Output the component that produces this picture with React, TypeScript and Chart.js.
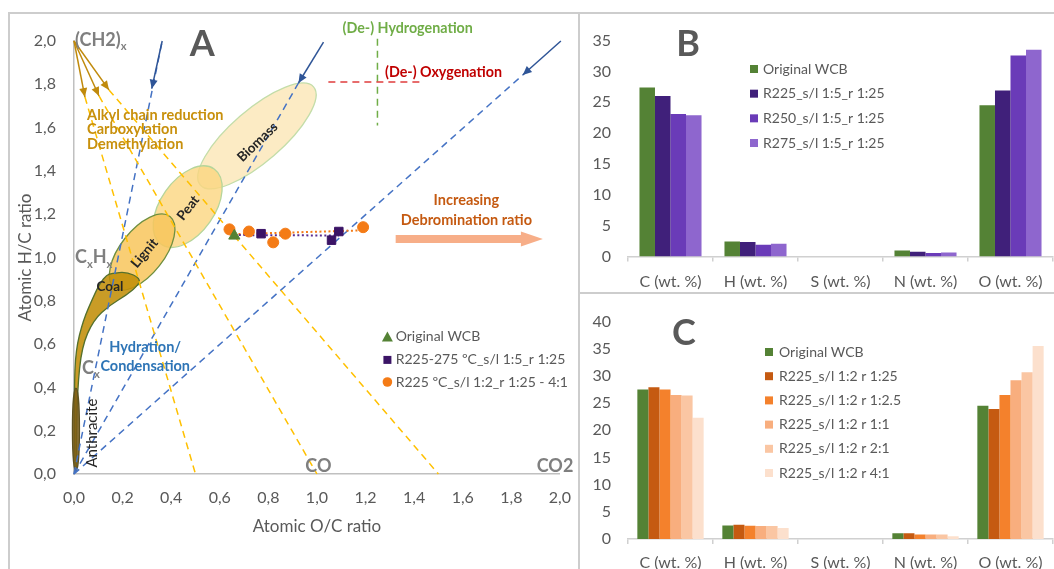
import React, { useEffect, useRef } from 'react';
import { Chart, registerables } from 'chart.js';

Chart.register(...registerables);

const FONT = 'Lato, "Open Sans", "DejaVu Sans", sans-serif';
const GRAY = '#595959';

// ---------- Panel A: Van Krevelen diagram data ----------
const vkTickLabels = ['0,0', '0,2', '0,4', '0,6', '0,8', '1,0', '1,2', '1,4', '1,6', '1,8', '2,0'];
const wcbOC = [0.66];
const wcbHC = [1.1];
const tempOC = [0.77, 1.06, 1.09];
const tempHC = [1.11, 1.08, 1.12];
const ratioOC = [0.64, 0.72, 0.82, 0.87, 1.19];
const ratioHC = [1.13, 1.12, 1.07, 1.11, 1.14];
const seriesALabels = ['Original WCB', 'R225-275 ºC_s/l 1:5_r 1:25', 'R225 ºC_s/l 1:2_r 1:25 - 4:1'];

// ---------- Panel B ----------
const elementLabels = ['C (wt. %)', 'H (wt. %)', 'S (wt. %)', 'N (wt. %)', 'O (wt. %)'];
const bLabels = ['Original WCB', 'R225_s/l 1:5_r 1:25', 'R250_s/l 1:5_r 1:25', 'R275_s/l 1:5_r 1:25'];
const bOriginal = [27.4, 2.45, 0, 0.97, 24.5];
const bR225 = [26.0, 2.35, 0, 0.77, 26.9];
const bR250 = [23.1, 1.9, 0, 0.56, 32.6];
const bR275 = [22.9, 2.05, 0, 0.66, 33.5];

// ---------- Panel C ----------
const cLabels = ['Original WCB', 'R225_s/l 1:2 r 1:25', 'R225_s/l 1:2 r 1:2.5', 'R225_s/l 1:2 r 1:1', 'R225_s/l 1:2 r 2:1', 'R225_s/l 1:2 r 4:1'];
const cOriginal = [27.5, 2.5, 0, 1.04, 24.5];
const cR1_25 = [27.9, 2.6, 0, 1.04, 23.9];
const cR1_2_5 = [27.5, 2.43, 0, 0.81, 26.5];
const cR1_1 = [26.5, 2.38, 0, 0.81, 29.2];
const cR2_1 = [26.4, 2.38, 0, 0.81, 30.7];
const cR4_1 = [22.3, 2.03, 0, 0.52, 35.5];

// ---------- styles ----------
const GREEN = '#548235';
const PURPLE_PT = '#3B1466';
const ORANGE_PT = '#F47B16';
const bColors = [GREEN, '#40207A', '#6A3BB8', '#8E66CE'];
const cColors = [GREEN, '#C55A11', '#F4812C', '#F8AE7E', '#FAC6A3', '#FCE0CD'];

// Annotations of panel A (in O/C, H/C coordinates)
const ellipses = [
  { p1: [0.52, 1.335], p2: [0.986, 1.788], minor: 26, fill: 'rgba(252,232,186,0.85)', stroke: '#C3DDA9' },
  { p1: [0.359, 1.061], p2: [0.577, 1.409], minor: 27, fill: 'rgba(251,214,128,0.8)', stroke: '#B5D59A' },
  { p1: [0.166, 0.861], p2: [0.395, 1.189], minor: 22, fill: 'rgba(248,198,92,0.85)', stroke: '#6F8F3F' },
];
const coalOutline = [
  [0.155, 0.927], [0.217, 0.934], [0.272, 0.904], [0.265, 0.873], [0.217, 0.827], [0.148, 0.781],
  [0.08, 0.711], [0.032, 0.588], [0.014, 0.388], [0.011, 0.157], [0.011, 0.018], [0.003, 0.018],
  [0.001, 0.388], [0.007, 0.573], [0.038, 0.711], [0.08, 0.819], [0.107, 0.882], [0.135, 0.919],
];
const anthraciteShape = { p1: [0.008, 0.014], p2: [0.008, 0.397], minor: 3.5, fill: 'rgba(122,92,22,0.85)', stroke: '#5E5220' };
const blueDashed = [
  [[0, 0], [0.363, 2.0]],
  [[0, 0], [0.924, 1.806]],
  [[0, 0], [1.847, 1.843]],
];
const blueArrows = [
  [[0.363, 2.0], [0.32, 1.78]],
  [[1.027, 1.995], [0.924, 1.806]],
  [[2.004, 2.0], [1.847, 1.843]],
];
const ch2Tips = [[0.045, 1.741], [0.103, 1.746], [0.144, 1.774]];
const ch2Ends = [[0.5, 0], [1.0, 0], [1.5, 0]];
const shapeLabels = [
  { t: 'Biomass', at: [0.755, 1.533], rot: -44 },
  { t: 'Peat', at: [0.47, 1.229], rot: -52 },
  { t: 'Lignit', at: [0.29, 1.02], rot: -50 },
  { t: 'Coal', at: [0.148, 0.864], rot: 0 },
];

function trend(xs: number[], ys: number[]) {
  const n = xs.length;
  const mx = xs.reduce((a, b) => a + b, 0) / n;
  const my = ys.reduce((a, b) => a + b, 0) / n;
  let sxy = 0, sxx = 0;
  for (let i = 0; i < n; i++) { sxy += (xs[i] - mx) * (ys[i] - my); sxx += (xs[i] - mx) ** 2; }
  const m = sxx ? sxy / sxx : 0;
  const b = my - m * mx;
  const lo = Math.min(...xs), hi = Math.max(...xs);
  return [{ x: lo, y: m * lo + b }, { x: hi, y: m * hi + b }];
}
const zip = (a: number[], b: number[]) => a.map((v, i) => ({ x: v, y: b[i] }));

function arrowHead(ctx: any, x1: number, y1: number, x2: number, y2: number, len: number, hw: number, color: string) {
  const a = Math.atan2(y2 - y1, x2 - x1);
  const bx = x2 - len * Math.cos(a), by = y2 - len * Math.sin(a);
  ctx.fillStyle = color;
  ctx.beginPath();
  ctx.moveTo(x2, y2);
  ctx.lineTo(bx + hw * Math.sin(a), by - hw * Math.cos(a));
  ctx.lineTo(bx - hw * Math.sin(a), by + hw * Math.cos(a));
  ctx.closePath();
  ctx.fill();
}

function line(ctx: any, x1: number, y1: number, x2: number, y2: number, color: string, w: number, dash: number[]) {
  ctx.save();
  ctx.strokeStyle = color; ctx.lineWidth = w; ctx.setLineDash(dash);
  ctx.beginPath(); ctx.moveTo(x1, y1); ctx.lineTo(x2, y2); ctx.stroke();
  ctx.restore();
}

function txt(ctx: any, s: string, x: number, y: number, font: string, color: string, align = 'left', rot = 0) {
  ctx.save();
  ctx.translate(x, y);
  ctx.rotate((rot * Math.PI) / 180);
  ctx.font = font; ctx.fillStyle = color; ctx.textAlign = align; ctx.textBaseline = 'middle';
  ctx.fillText(s, 0, 0);
  ctx.restore();
}

function rich(ctx: any, parts: [string, boolean][], x: number, y: number, size: number, color: string) {
  let cx = x;
  ctx.save();
  ctx.fillStyle = color; ctx.textAlign = 'left'; ctx.textBaseline = 'middle';
  for (const [t, sub] of parts) {
    const s = sub ? size * 0.62 : size;
    ctx.font = `bold ${s}px ${FONT}`;
    ctx.fillText(t, cx, sub ? y + size * 0.38 : y);
    cx += ctx.measureText(t).width;
  }
  ctx.restore();
}

const vkPlugin = {
  id: 'vkAnnotations',
  beforeDatasetsDraw(chart: any) {
    const { ctx } = chart;
    const X = (v: number) => chart.scales.x.getPixelForValue(v);
    const Y = (v: number) => chart.scales.y.getPixelForValue(v);
    ctx.save();
    const drawEllipse = (e: any) => {
      const x1 = X(e.p1[0]), y1 = Y(e.p1[1]), x2 = X(e.p2[0]), y2 = Y(e.p2[1]);
      ctx.beginPath();
      ctx.ellipse((x1 + x2) / 2, (y1 + y2) / 2, Math.hypot(x2 - x1, y2 - y1) / 2, e.minor, Math.atan2(y2 - y1, x2 - x1), 0, Math.PI * 2);
      ctx.fillStyle = e.fill; ctx.fill();
      ctx.lineWidth = 1.3; ctx.strokeStyle = e.stroke; ctx.stroke();
    };
    ellipses.forEach(drawEllipse);
    const pts = coalOutline.map(p => [X(p[0]), Y(p[1])]);
    ctx.beginPath();
    const n = pts.length;
    const mid = (i: number) => [(pts[i % n][0] + pts[(i + 1) % n][0]) / 2, (pts[i % n][1] + pts[(i + 1) % n][1]) / 2];
    const m0 = mid(0);
    ctx.moveTo(m0[0], m0[1]);
    for (let i = 1; i <= n; i++) {
      const m = mid(i);
      ctx.quadraticCurveTo(pts[i % n][0], pts[i % n][1], m[0], m[1]);
    }
    ctx.closePath();
    ctx.fillStyle = 'rgba(194,142,8,0.88)'; ctx.fill();
    ctx.lineWidth = 1.3; ctx.strokeStyle = '#54702C'; ctx.stroke();
    drawEllipse(anthraciteShape);

    blueDashed.forEach(([a, b]) => line(ctx, X(a[0]), Y(a[1]), X(b[0]), Y(b[1]), '#4472C4', 1.5, [7, 5]));
    ch2Tips.forEach((t, i) => line(ctx, X(t[0]), Y(t[1]), X(ch2Ends[i][0]), Y(ch2Ends[i][1]), '#FFC000', 1.5, [7, 5]));
    ch2Tips.forEach(t => {
      line(ctx, X(0), Y(2), X(t[0]), Y(t[1]), '#C08A0C', 1.5, []);
      arrowHead(ctx, X(0), Y(2), X(t[0]), Y(t[1]), 9, 4, '#C08A0C');
    });
    blueArrows.forEach(([a, b]) => {
      line(ctx, X(a[0]), Y(a[1]), X(b[0]), Y(b[1]), '#2F5597', 1.5, []);
      arrowHead(ctx, X(a[0]), Y(a[1]), X(b[0]), Y(b[1]), 9, 4, '#2F5597');
    });
    line(ctx, X(1.249), Y(2.01), X(1.249), Y(1.61), '#70AD47', 1.5, [7, 5]);
    line(ctx, X(1.047), Y(1.811), X(1.427), Y(1.811), '#E03C3C', 1.5, [7, 5]);

    const ax1 = X(1.324), ax2 = X(1.93), ay = Y(1.085);
    ctx.fillStyle = '#F7AE88';
    ctx.beginPath();
    ctx.moveTo(ax1, ay - 4); ctx.lineTo(ax2 - 22, ay - 4); ctx.lineTo(ax2 - 22, ay - 7.5);
    ctx.lineTo(ax2, ay); ctx.lineTo(ax2 - 22, ay + 7.5); ctx.lineTo(ax2 - 22, ay + 4); ctx.lineTo(ax1, ay + 4);
    ctx.closePath(); ctx.fill();

    const B = (s: number) => `bold ${s}px ${FONT}`;
    shapeLabels.forEach(l => txt(ctx, l.t, X(l.at[0]), Y(l.at[1]), B(13.5), '#262626', 'center', l.rot));
    txt(ctx, 'Anthracite', X(0.074), Y(0.189), `${15}px ${FONT}`, '#262626', 'center', -90);
    txt(ctx, 'A', X(0.528), Y(1.985), B(36), GRAY, 'center');
    rich(ctx, [['(CH2)', false], ['x', true]], X(0) + 1, Y(2.005), 18, '#7F7F7F');
    rich(ctx, [['C', false], ['x', true], ['H', false], ['x', true]], X(0) + 1, Y(1.0), 18, '#7F7F7F');
    rich(ctx, [['C', false], ['x', true]], X(0.033), Y(0.49), 18, '#7F7F7F');
    txt(ctx, 'CO', X(1.006), Y(0.035), B(18), '#7F7F7F', 'center');
    txt(ctx, 'CO2', X(1.98), Y(0.035), B(18), '#7F7F7F', 'center');
    txt(ctx, '(De-) Hydrogenation', X(1.105), Y(2.06), B(14.3), '#70AD47', 'left');
    txt(ctx, '(De-) Oxygenation', X(1.28), Y(1.857), B(14.3), '#C00000', 'left');
    txt(ctx, 'Increasing', X(1.615), Y(1.266), B(14.5), '#C55A11', 'center');
    txt(ctx, 'Debromination ratio', X(1.615), Y(1.173), B(14.5), '#C55A11', 'center');
    ['Alkyl chain reduction', 'Carboxylation', 'Demethylation'].forEach((s, i) =>
      txt(ctx, s, X(0.054), Y([1.658, 1.594, 1.524][i]), B(14.5), '#C8900C', 'left'));
    txt(ctx, 'Hydration/', X(0.293), Y(0.587), B(14.5), '#2E75B6', 'center');
    txt(ctx, 'Condensation', X(0.293), Y(0.499), B(14.5), '#2E75B6', 'center');
    ctx.restore();
  },
  afterDatasetsDraw(chart: any) {
    const { ctx } = chart;
    const X = (v: number) => chart.scales.x.getPixelForValue(v);
    const Y = (v: number) => chart.scales.y.getPixelForValue(v);
    const mx = X(1.29), tx = X(1.324);
    const rows = [0.633, 0.527, 0.425];
    ctx.save();
    chart.data.datasets.slice(0, 3).forEach((ds: any, i: number) => {
      const y = Y(rows[i]);
      ctx.fillStyle = ds.backgroundColor;
      ctx.beginPath();
      if (i === 0) { ctx.moveTo(mx, y - 5.5); ctx.lineTo(mx + 5.5, y + 4.5); ctx.lineTo(mx - 5.5, y + 4.5); ctx.closePath(); }
      else if (i === 1) { ctx.rect(mx - 4, y - 4, 8, 8); }
      else { ctx.arc(mx, y, 4.8, 0, Math.PI * 2); }
      ctx.fill();
      txt(ctx, ds.label, tx, y, `14px ${FONT}`, GRAY, 'left');
    });
    ctx.restore();
  },
};

function makeA() {
  return {
    type: 'scatter',
    data: {
      datasets: [
        { label: seriesALabels[0], data: zip(wcbOC, wcbHC), pointStyle: 'triangle', pointRadius: 6.5, backgroundColor: GREEN, borderColor: GREEN, order: 0 },
        { label: seriesALabels[1], data: zip(tempOC, tempHC), pointStyle: 'rect', pointRadius: 6, backgroundColor: PURPLE_PT, borderColor: PURPLE_PT, order: 0 },
        { label: seriesALabels[2], data: zip(ratioOC, ratioHC), pointStyle: 'circle', pointRadius: 5.5, backgroundColor: ORANGE_PT, borderColor: ORANGE_PT, order: 0 },
        { label: 'trend purple', type: 'line', data: trend([...wcbOC, ...tempOC], [...wcbHC, ...tempHC]), borderColor: '#5A2D91', borderWidth: 2, borderDash: [2, 2.5], pointRadius: 0, order: 1 },
        { label: 'trend orange', type: 'line', data: trend(ratioOC, ratioHC), borderColor: '#F47B16', borderWidth: 2, borderDash: [2, 2.5], pointRadius: 0, order: 1 },
      ],
    },
    options: {
      responsive: false,
      animation: false,
      layout: { padding: { left: 0, top: 41, right: 11, bottom: 0 } },
      plugins: { legend: { display: false }, tooltip: { enabled: false } },
      scales: {
        x: {
          type: 'linear', min: 0, max: 2,
          ticks: { stepSize: 0.2, color: GRAY, font: { family: FONT, size: 16 }, padding: 14, callback: (_v: any, i: number) => vkTickLabels[i] },
          grid: { display: false, drawTicks: false },
          border: { display: true, color: '#C0C0C0', width: 1.5 },
          title: { display: true, text: 'Atomic O/C ratio', color: GRAY, font: { family: FONT, size: 17 }, padding: { top: 0, bottom: 32 } },
          afterFit: (s: any) => { s.height = 95; },
        },
        y: {
          type: 'linear', min: 0, max: 2,
          ticks: { stepSize: 0.2, color: GRAY, font: { family: FONT, size: 16 }, padding: 18, callback: (_v: any, i: number) => vkTickLabels[i] },
          grid: { display: false, drawTicks: false },
          border: { display: true, color: '#C0C0C0', width: 1.5 },
          title: { display: true, text: 'Atomic H/C ratio', color: GRAY, font: { family: FONT, size: 17 }, padding: { top: 15, bottom: 0 } },
          afterFit: (s: any) => { s.width = 74; },
        },
      },
    },
    plugins: [vkPlugin],
  };
}

function barDecor(letter: string, lx: number, ly: number, boxX: number, textX: number, y0: number, dy: number) {
  return {
    id: 'barDecor' + letter,
    afterDraw(chart: any) {
      const { ctx } = chart;
      ctx.save();
      txt(ctx, letter, lx, ly, `bold 36px ${FONT}`, GRAY, 'center');
      chart.data.datasets.forEach((ds: any, i: number) => {
        const y = y0 + i * dy;
        ctx.fillStyle = ds.backgroundColor;
        ctx.fillRect(boxX, y - 4, 8, 8);
        txt(ctx, ds.label, textX, y, `14px ${FONT}`, GRAY, 'left');
      });
      ctx.restore();
    },
  };
}

function makeBar(labels: string[], series: number[][], colors: string[], max: number, catPct: number, top: number, xh: number, tickPad: number, decor: any) {
  return {
    type: 'bar',
    data: {
      labels: elementLabels,
      datasets: series.map((d, i) => ({ label: labels[i], data: d, backgroundColor: colors[i], borderWidth: 0 })),
    },
    options: {
      responsive: false,
      animation: false,
      layout: { padding: { left: 0, top, right: 1, bottom: 0 } },
      datasets: { bar: { categoryPercentage: catPct, barPercentage: 1 } },
      plugins: { legend: { display: false }, tooltip: { enabled: false } },
      scales: {
        x: {
          grid: { display: true, drawOnChartArea: false, drawTicks: true, tickLength: 5, color: '#D0D0D0', offset: true, lineWidth: 1.5 },
          border: { display: true, color: '#D0D0D0', width: 1.5 },
          ticks: { color: GRAY, font: { family: FONT, size: 16 }, padding: tickPad, maxRotation: 0, autoSkip: false },
          afterFit: (s: any) => { s.height = xh; },
        },
        y: {
          min: 0, max,
          ticks: { stepSize: 5, color: GRAY, font: { family: FONT, size: 16 }, padding: 17 },
          grid: { display: false, drawTicks: false },
          border: { display: false },
          afterFit: (s: any) => { s.width = 47; },
        },
      },
    },
    plugins: [decor],
  };
}

function ChartCanvas({ make, left, top, width, height }: any) {
  const ref = useRef<HTMLCanvasElement>(null);
  useEffect(() => {
    const chart = new Chart(ref.current as HTMLCanvasElement, make() as any);
    return () => chart.destroy();
  }, []);
  return <canvas ref={ref} width={width} height={height} style={{ position: 'absolute', left, top, width, height }} />;
}

export default function App() {
  return (
    <div style={{ position: 'fixed', left: 0, top: 0, width: 1054, height: 569, overflow: 'hidden', background: '#fff' }}>
      <ChartCanvas make={makeA} left={0} top={0} width={585} height={569} />
      <ChartCanvas
        make={() => makeBar(bLabels, [bOriginal, bR225, bR250, bR275], bColors, 35, 0.73, 13.3, 33.5, 11, barDecor('B', 107, 30, 169, 182, 55, 24.67))}
        left={581} top={14} width={473} height={276}
      />
      <ChartCanvas
        make={() => makeBar(cLabels, [cOriginal, cR1_25, cR1_2_5, cR1_1, cR2_1, cR4_1], cColors, 40, 0.78, 14, 30, 9.5, barDecor('C', 103, 38, 184, 198, 57, 24.2))}
        left={581} top={295} width={473} height={274}
      />
      <div style={{ position: 'absolute', left: 8, top: 12, width: 568, height: 600, border: '2px solid #CDCDCD', pointerEvents: 'none' }} />
      <div style={{ position: 'absolute', left: 578, top: 12, width: 500, height: 278, border: '2px solid #CDCDCD', pointerEvents: 'none' }} />
      <div style={{ position: 'absolute', left: 578, top: 292, width: 500, height: 300, border: '2px solid #CDCDCD', pointerEvents: 'none' }} />
    </div>
  );
}
